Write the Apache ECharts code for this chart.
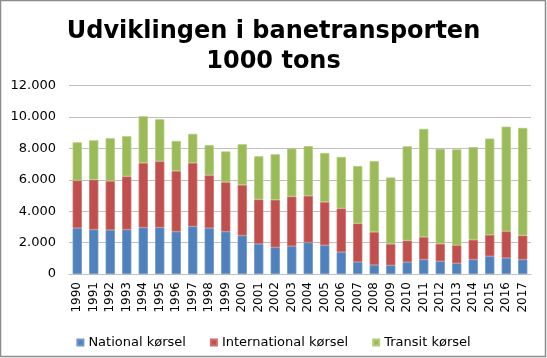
<!DOCTYPE html>
<html>
<head>
<meta charset="utf-8">
<script src="https://cdn.jsdelivr.net/npm/echarts@6/dist/echarts.min.js"></script>
<style>
html,body{margin:0;padding:0;background:#fff;}
#main{width:547px;height:358px;}
</style>
</head>
<body>
<div id="main"></div>
<script>
const years = ['1990','1991','1992','1993','1994','1995','1996','1997','1998','1999','2000','2001','2002','2003','2004','2005','2006','2007','2008','2009','2010','2011','2012','2013','2014','2015','2016','2017'];
const national = [2920,2830,2810,2830,2960,2960,2700,3030,2920,2700,2450,1920,1700,1770,2000,1830,1390,770,580,550,750,920,810,680,920,1130,1020,920];
const international = [3040,3180,3110,3390,4110,4220,3860,4050,3370,3150,3220,2830,3030,3170,2980,2750,2790,2450,2090,1360,1380,1430,1110,1150,1260,1360,1700,1530];
const transit = [2430,2510,2730,2560,2980,2680,1920,1850,1920,1960,2600,2750,2900,3050,3170,3130,3280,3660,4520,4240,6010,6900,6050,6110,5900,6140,6670,6860];
const seriesNames = ['National kørsel','International kørsel','Transit kørsel'];
const colors = ['#4F81BD','#C0504D','#9BBB59'];
const borderColors = ['#6C97CC','#CF6E6B','#B2CC7A'];
const yTicks = {min:0, max:12000, interval:2000};

const font = 'DejaVu Sans';
const chart = echarts.init(document.getElementById('main'), null, {renderer:'canvas'});
function fmt(v){ return String(v).replace(/\B(?=(\d{3})+(?!\d))/g, '.'); }
const datas = [national, international, transit];
chart.setOption({
  animation:false,
  textStyle:{fontFamily:font},
  title:{
    text:'Udviklingen i banetransporten\n1000 tons',
    left:'center', top:12,
    textStyle:{fontFamily:font, fontWeight:'bold', fontSize:24, lineHeight:30, color:'#000'}
  },
  graphic:[{type:'rect', shape:{x:0.5,y:0.5,width:545,height:356}, style:{fill:'none', stroke:'#8c8c8c', lineWidth:1.5}, silent:true}],
  legend:{
    data:seriesNames, left:'center', top:331, icon:'rect', itemWidth:6, itemHeight:6, itemGap:24,
    textStyle:{fontFamily:font, fontSize:13, color:'#000'}
  },
  grid:{left:69, right:16, top:85.7, bottom:84},
  xAxis:{
    type:'category', data:years,
    axisLine:{lineStyle:{color:'#BFBFBF', width:1}},
    axisTick:{show:false},
    axisLabel:{rotate:90, fontSize:12, color:'#000', fontFamily:font, interval:0, margin:8}
  },
  yAxis:{
    type:'value', min:yTicks.min, max:yTicks.max, interval:yTicks.interval,
    axisLine:{show:false}, axisTick:{show:false},
    splitLine:{lineStyle:{color:'#BFBFBF', width:1}},
    axisLabel:{fontSize:13, color:'#000', fontFamily:font, margin:13, formatter:fmt}
  },
  series: seriesNames.map((n,i)=>({
    name:n, type:'bar', stack:'total', data:datas[i], barWidth:'56%',
    itemStyle:{color:colors[i], borderColor:borderColors[i], borderWidth:0.8}
  }))
});
</script>
</body>
</html>
